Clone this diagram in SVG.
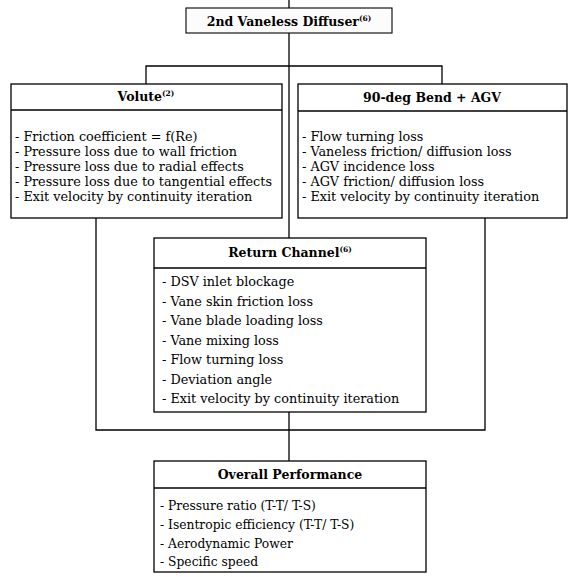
<svg xmlns="http://www.w3.org/2000/svg" width="574" height="577" viewBox="0 0 574 577">
<style>
.box{fill:#fff;stroke:#000;stroke-width:1.3}
.hdr{fill:#fcfcfc;stroke:#000;stroke-width:1.1}
.sep{stroke:#000;stroke-width:1.3}
.t{font-family:"DejaVu Serif","Liberation Serif",serif;font-size:12.8px;fill:#000}
.o{font-size:12.3px}
.h{font-family:"DejaVu Serif","Liberation Serif",serif;font-size:12.5px;font-weight:bold;fill:#000;text-anchor:middle}
.sup{font-size:7.5px}
.c{fill:none;stroke:#000;stroke-width:1.3}
</style>
<rect width="574" height="577" fill="#fff"/>
<g id="connectors">
<path class="c" d="M289,0V8"/>
<path class="c" d="M289,33V238"/>
<path class="c" d="M146,84V66H442V84"/>
<path class="c" d="M96,218V430H485V218"/>
<path class="c" d="M289,412V461"/>
</g>
<g id="diffuser">
<rect class="hdr" x="186" y="8" width="206" height="25"/>
<text class="h" x="289" y="26">2nd Vaneless Diffuser<tspan class="sup" dy="-5">(6)</tspan></text>
</g>
<g id="volute">
<rect class="box" x="11" y="84" width="271" height="134"/>
<line class="sep" x1="11" y1="110" x2="282" y2="110"/>
<text class="h" x="146" y="101">Volute<tspan class="sup" dy="-5">(2)</tspan></text>
<text class="t" x="15" y="141">- Friction coefficient = f(Re)</text>
<text class="t" x="15" y="156">- Pressure loss due to wall friction</text>
<text class="t" x="15" y="171">- Pressure loss due to radial effects</text>
<text class="t" x="15" y="186">- Pressure loss due to tangential effects</text>
<text class="t" x="15" y="201">- Exit velocity by continuity iteration</text>
</g>
<g id="bend-agv">
<rect class="box" x="298" y="84" width="269" height="134"/>
<line class="sep" x1="298" y1="111" x2="567" y2="111"/>
<text class="h" x="432" y="102">90-deg Bend + AGV</text>
<text class="t" x="302" y="141">- Flow turning loss</text>
<text class="t" x="302" y="156">- Vaneless friction/ diffusion loss</text>
<text class="t" x="302" y="171">- AGV incidence loss</text>
<text class="t" x="302" y="186">- AGV friction/ diffusion loss</text>
<text class="t" x="302" y="201">- Exit velocity by continuity iteration</text>
</g>
<g id="return-channel">
<rect class="box" x="154" y="238" width="272" height="174"/>
<line class="sep" x1="154" y1="268" x2="426" y2="268"/>
<text class="h" x="290" y="257">Return Channel<tspan class="sup" dy="-5">(6)</tspan></text>
<text class="t" x="162" y="286">- DSV inlet blockage</text>
<text class="t" x="162" y="305.5">- Vane skin friction loss</text>
<text class="t" x="162" y="325">- Vane blade loading loss</text>
<text class="t" x="162" y="344.5">- Vane mixing loss</text>
<text class="t" x="162" y="364">- Flow turning loss</text>
<text class="t" x="162" y="383.5">- Deviation angle</text>
<text class="t" x="162" y="403">- Exit velocity by continuity iteration</text>
</g>
<g id="overall-performance">
<rect class="box" x="154" y="461" width="272" height="111"/>
<line class="sep" x1="154" y1="488" x2="426" y2="488"/>
<text class="h" x="290" y="479">Overall Performance</text>
<text class="t o" x="160" y="510">- Pressure ratio (T-T/ T-S)</text>
<text class="t o" x="160" y="529">- Isentropic efficiency (T-T/ T-S)</text>
<text class="t o" x="160" y="548">- Aerodynamic Power</text>
<text class="t o" x="160" y="566">- Specific speed</text>
</g>
</svg>
